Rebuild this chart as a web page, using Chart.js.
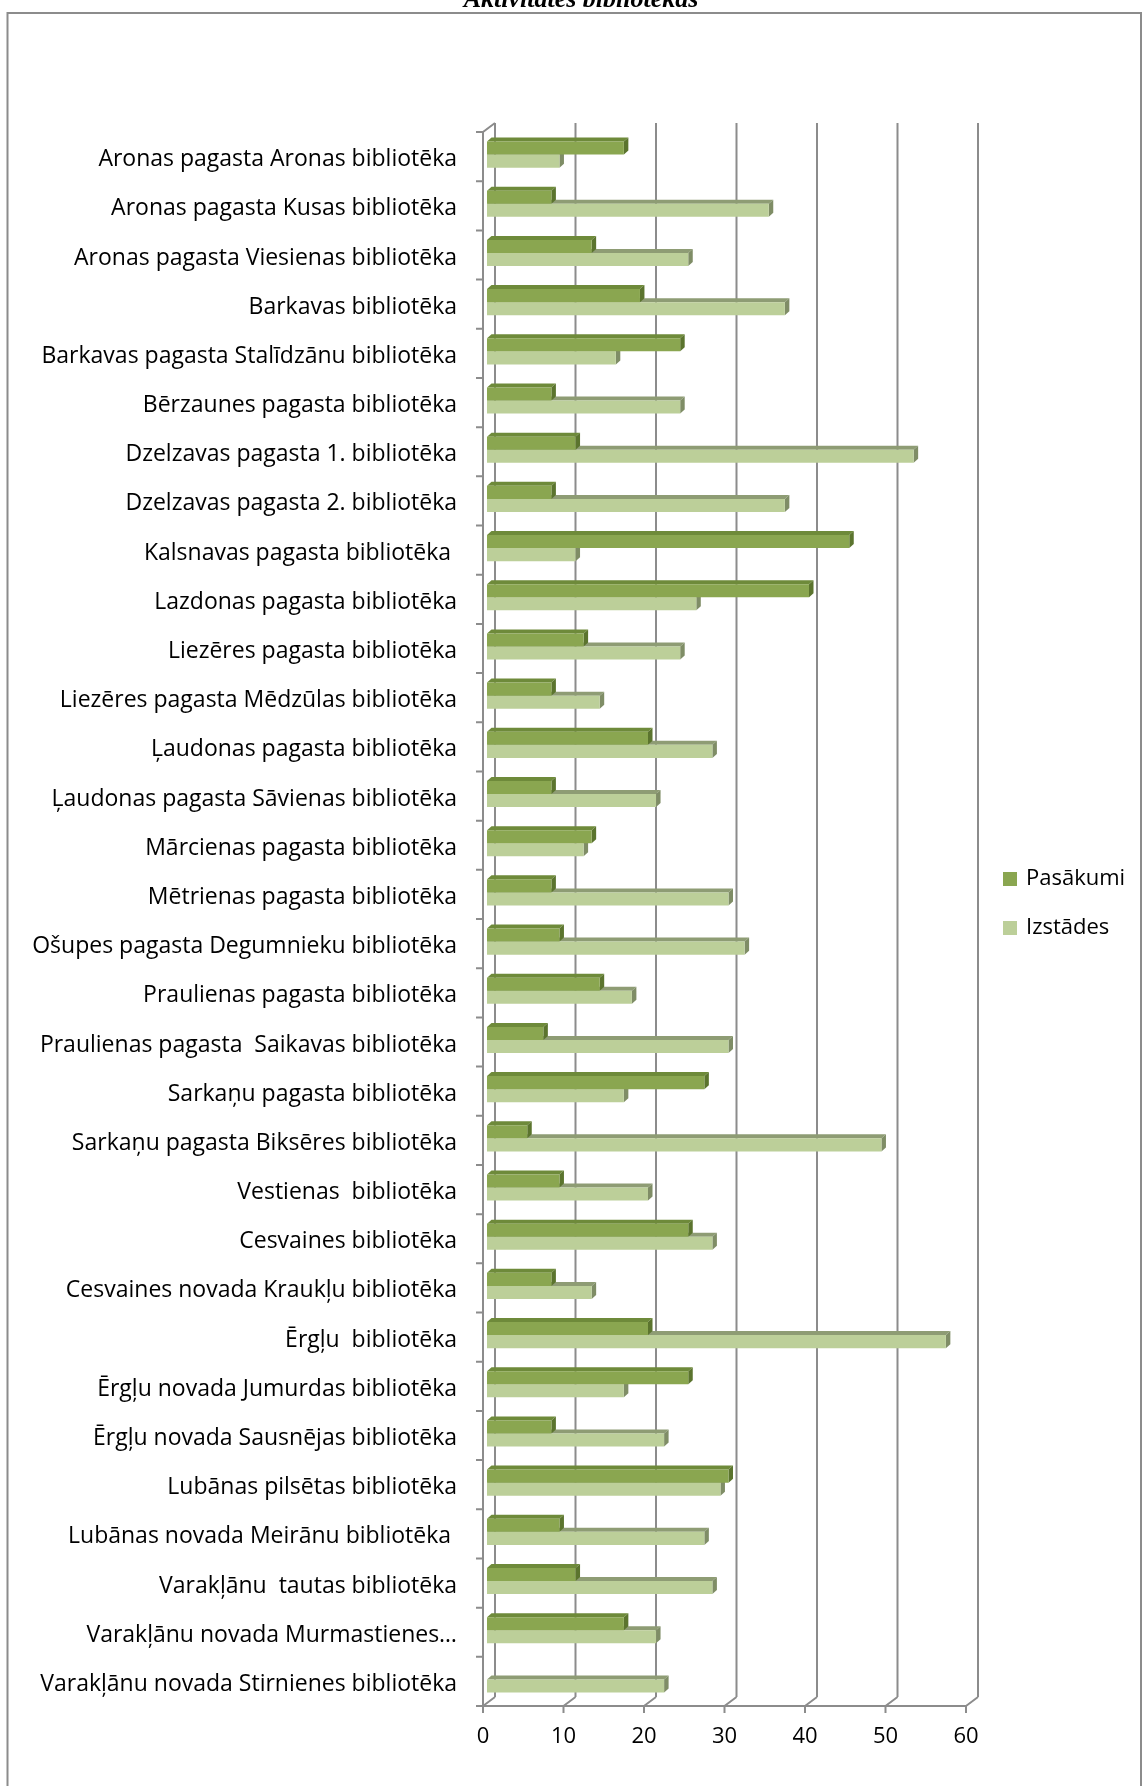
<!DOCTYPE html>
<html>
<head>
<meta charset="utf-8">
<script src="https://cdn.jsdelivr.net/npm/chart.js@4"></script>
<style>
  html, body { margin: 0; padding: 0; background: #fff; overflow: hidden; }
  canvas { display: block; }
</style>
</head>
<body>
<canvas id="libChart" width="1143" height="1786"></canvas>
<script>
// Chart data
const libraries = [
    'Aronas pagasta Aronas bibliotēka',
    'Aronas pagasta Kusas bibliotēka',
    'Aronas pagasta Viesienas bibliotēka',
    'Barkavas bibliotēka',
    'Barkavas pagasta Stalīdzānu bibliotēka',
    'Bērzaunes pagasta bibliotēka',
    'Dzelzavas pagasta 1. bibliotēka',
    'Dzelzavas pagasta 2. bibliotēka',
    'Kalsnavas pagasta bibliotēka ',
    'Lazdonas pagasta bibliotēka',
    'Liezēres pagasta bibliotēka',
    'Liezēres pagasta Mēdzūlas bibliotēka',
    'Ļaudonas pagasta bibliotēka',
    'Ļaudonas pagasta Sāvienas bibliotēka',
    'Mārcienas pagasta bibliotēka',
    'Mētrienas pagasta bibliotēka',
    'Ošupes pagasta Degumnieku bibliotēka',
    'Praulienas pagasta bibliotēka',
    'Praulienas pagasta  Saikavas bibliotēka',
    'Sarkaņu pagasta bibliotēka',
    'Sarkaņu pagasta Biksēres bibliotēka',
    'Vestienas  bibliotēka',
    'Cesvaines bibliotēka',
    'Cesvaines novada Kraukļu bibliotēka',
    'Ērgļu  bibliotēka',
    'Ērgļu novada Jumurdas bibliotēka',
    'Ērgļu novada Sausnējas bibliotēka',
    'Lubānas pilsētas bibliotēka',
    'Lubānas novada Meirānu bibliotēka ',
    'Varakļānu  tautas bibliotēka',
    'Varakļānu novada Murmastienes…',
    'Varakļānu novada Stirnienes bibliotēka'
];
const pasakumi = [17, 8, 13, 19, 24, 8, 11, 8, 45, 40, 12, 8, 20, 8, 13, 8, 9, 14, 7, 27, 5, 9, 25, 8, 20, 25, 8, 30, 9, 11, 17, 0];
const izstades = [9, 35, 25, 37, 16, 24, 53, 37, 11, 26, 24, 14, 28, 21, 12, 30, 32, 18, 30, 17, 49, 20, 28, 13, 57, 17, 22, 29, 27, 28, 21, 22];
const xTicks = [0, 10, 20, 30, 40, 50, 60];
const seriesNames = ['Pasākumi', 'Izstādes'];
const chartTitle = 'Aktivitātes bibliotēkās';

// Colors (front, top face, side face)
const colors = [
    { front: '#8aa650', top: '#6e8a3a', side: '#5b742e' },
    { front: '#bccf99', top: '#8e9c74', side: '#7f8d66' }
];

// 3D look: bar depth, back wall offset, front plane relative to bar plane
const DEPTH_X = 4.5, DEPTH_Y = 4;
const WALL_X = 12, WALL_Y = 9;
const PLANE_X = -4, PLANE_Y = 2;
const LINE_COLOR = '#8c8c8c';
const FONT = '"Open Sans", Lato, sans-serif';

function drawExtrusion(ctx, bar, c) {
    const p = bar.getProps(['x', 'y', 'base', 'height'], true);
    if (p.x - p.base < 0.5) return;
    const t = p.y - p.height / 2;
    const b = p.y + p.height / 2;
    // top face
    ctx.fillStyle = c.top;
    ctx.beginPath();
    ctx.moveTo(p.base, t);
    ctx.lineTo(p.x, t);
    ctx.lineTo(p.x + DEPTH_X, t - DEPTH_Y);
    ctx.lineTo(p.base + DEPTH_X, t - DEPTH_Y);
    ctx.closePath();
    ctx.fill();
    // side face
    ctx.fillStyle = c.side;
    ctx.beginPath();
    ctx.moveTo(p.x, t);
    ctx.lineTo(p.x + DEPTH_X, t - DEPTH_Y);
    ctx.lineTo(p.x + DEPTH_X, b - DEPTH_Y);
    ctx.lineTo(p.x, b);
    ctx.closePath();
    ctx.fill();
}

const wallPlugin = {
    id: 'wall3d',
    beforeDatasetsDraw(chart) {
        const ctx = chart.ctx;
        const xs = chart.scales.x;
        const area = chart.chartArea;
        const top = area.top + PLANE_Y;
        const bottom = area.bottom + PLANE_Y;
        const left = xs.getPixelForValue(xTicks[0]) + PLANE_X;
        const right = xs.getPixelForValue(xTicks[xTicks.length - 1]) + PLANE_X;

        ctx.save();
        ctx.strokeStyle = LINE_COLOR;
        ctx.lineWidth = 2;
        ctx.beginPath();
        xTicks.forEach(v => {
            const px = xs.getPixelForValue(v) + PLANE_X;
            // back wall grid line
            ctx.moveTo(px + WALL_X, top - WALL_Y);
            ctx.lineTo(px + WALL_X, bottom - WALL_Y);
            // floor diagonal
            ctx.moveTo(px, bottom);
            ctx.lineTo(px + WALL_X, bottom - WALL_Y);
            // tick mark
            ctx.moveTo(px, bottom);
            ctx.lineTo(px, bottom + 7);
        });
        // floor front edge
        ctx.moveTo(left - 7, bottom);
        ctx.lineTo(right, bottom);
        // left wall front edge and top corner
        ctx.moveTo(left, bottom);
        ctx.lineTo(left, top);
        ctx.lineTo(left + WALL_X, top - WALL_Y);
        // category tick marks
        const step = (bottom - top) / libraries.length;
        for (let i = 0; i < libraries.length; i++) {
            const y = top + i * step;
            ctx.moveTo(left - 7, y);
            ctx.lineTo(left, y);
        }
        ctx.stroke();

        // bar extrusions, second series first so the first one overlaps it
        [1, 0].forEach(di => {
            chart.getDatasetMeta(di).data.forEach(bar => drawExtrusion(ctx, bar, colors[di]));
        });
        ctx.restore();
    },
    afterDraw(chart) {
        const ctx = chart.ctx;
        ctx.save();

        // title (mostly cut off at the top)
        ctx.fillStyle = '#000';
        ctx.font = 'italic bold 26px "Liberation Serif", serif';
        ctx.textAlign = 'center';
        ctx.textBaseline = 'alphabetic';
        ctx.fillText(chartTitle, 581, 7);

        // frame
        ctx.strokeStyle = LINE_COLOR;
        ctx.lineWidth = 2;
        ctx.beginPath();
        ctx.moveTo(7.5, 1786);
        ctx.lineTo(7.5, 13);
        ctx.lineTo(1141, 13);
        ctx.lineTo(1141, 1786);
        ctx.stroke();

        // legend
        ctx.font = '22px ' + FONT;
        ctx.textAlign = 'left';
        ctx.textBaseline = 'middle';
        seriesNames.forEach((name, i) => {
            const cy = 879 + i * 49;
            ctx.fillStyle = colors[i].front;
            ctx.fillRect(1003, cy - 7, 14, 14);
            ctx.fillStyle = '#000';
            ctx.fillText(name, 1026, cy);
        });
        ctx.restore();
    }
};

Chart.defaults.font.family = FONT;
Chart.defaults.font.size = 22;
Chart.defaults.color = '#000';

new Chart(document.getElementById('libChart'), {
    type: 'bar',
    data: {
        labels: libraries,
        datasets: [
            {
                label: seriesNames[0],
                data: pasakumi,
                backgroundColor: colors[0].front,
                categoryPercentage: 0.53,
                barPercentage: 1
            },
            {
                label: seriesNames[1],
                data: izstades,
                backgroundColor: colors[1].front,
                categoryPercentage: 0.53,
                barPercentage: 1
            }
        ]
    },
    options: {
        indexAxis: 'y',
        responsive: false,
        animation: false,
        devicePixelRatio: 1,
        layout: {
            padding: { top: 130, right: 173, bottom: 0, left: 0 }
        },
        plugins: {
            legend: { display: false },
            title: { display: false },
            tooltip: { enabled: false }
        },
        scales: {
            x: {
                min: xTicks[0],
                max: xTicks[xTicks.length - 1],
                border: { display: false },
                grid: { display: false, drawTicks: false },
                ticks: {
                    stepSize: 10,
                    padding: 20,
                    labelOffset: PLANE_X,
                    color: '#000',
                    font: { size: 22 }
                },
                afterFit(scale) { scale.height = 82; }
            },
            y: {
                border: { display: false },
                grid: { display: false, drawTicks: false },
                ticks: {
                    autoSkip: false,
                    padding: 30,
                    labelOffset: 5,
                    color: '#000',
                    font: { size: 23 }
                },
                afterFit(scale) { scale.width = 487; }
            }
        }
    },
    plugins: [wallPlugin]
});
</script>
</body>
</html>
